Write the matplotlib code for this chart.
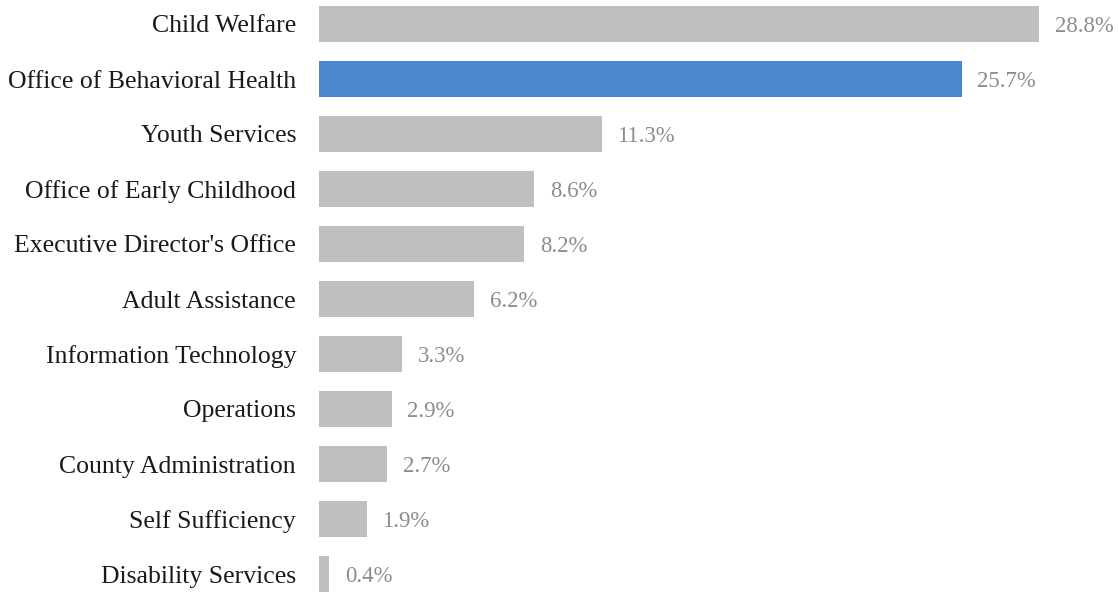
import matplotlib.pyplot as plt

categories = ['Child Welfare', 'Office of Behavioral Health', 'Youth Services',
              'Office of Early Childhood', "Executive Director's Office",
              'Adult Assistance', 'Information Technology', 'Operations',
              'County Administration', 'Self Sufficiency', 'Disability Services']
shares = [28.8, 25.7, 11.3, 8.6, 8.2, 6.2, 3.3, 2.9, 2.7, 1.9, 0.4]
highlight = 'Office of Behavioral Health'

plt.rcParams['font.family'] = ['Liberation Serif', 'DejaVu Serif']

fig = plt.figure(figsize=(11.18, 5.92), dpi=100)
ax = fig.add_axes([319 / 1118, 0, 1 - 319 / 1118, 1])

colors = ['#4A87CF' if c == highlight else '#BFBFBF' for c in categories]
pos = list(range(len(categories)))
ax.barh(pos, shares, height=0.67, color=colors)

for p, v in zip(pos, shares):
    ax.text(v + 0.64, p, f'{v:.1f}%', va='center_baseline', ha='left',
            fontsize=16.4, color='#8C8C8C')

ax.set_yticks(pos)
ax.set_yticklabels(categories, fontsize=18.5, color='#1A1A1A')
ax.tick_params(axis='y', length=0, pad=16.5)
ax.set_xticks([])
ax.set_xlim(0, 31.96)
ax.set_ylim(10 + 18 / 55, -24 / 55)
for s in ax.spines.values():
    s.set_visible(False)

fig.savefig('out.png', dpi=100)
